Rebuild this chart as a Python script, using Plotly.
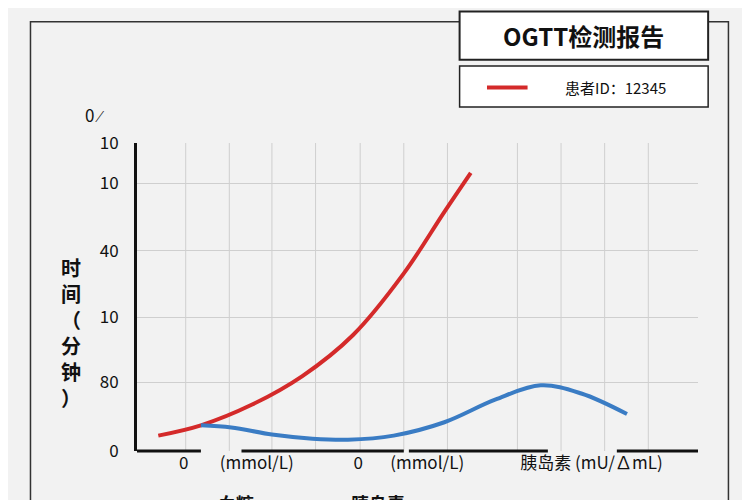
import plotly.graph_objects as go

red_x = [158, 200, 250, 300, 350, 400, 440, 466]
red_y = [15, 25, 45, 73, 113, 173, 233, 271]
blue_x = [200, 230, 270, 310, 345, 390, 440, 490, 535, 575, 620]
blue_y = [25, 23, 16, 12, 11, 15, 28, 50, 64, 56, 36]
ytick_vals = [0, 67, 130, 195, 261, 300]
ytick_text = ["0", "80", "10", "40", "10", "10"]
xtick_vals = [183, 255, 355, 423, 585]
xtick_text = ["0", "(mmol/L)", "0", "(mmol/L)", "胰岛素 (mU/∆mL)"]

F = "Noto Sans CJK SC"
fig = go.Figure()
fig.add_trace(go.Scatter(x=red_x, y=red_y, mode="lines", line=dict(color="#d42a2a", width=4, shape="spline")))
fig.add_trace(go.Scatter(x=blue_x, y=blue_y, mode="lines", line=dict(color="#3a7cc4", width=4, shape="spline")))

def px(x): return (x - 137) / 553
def py(y): return (443 - y) / 300

shapes = [
    dict(type="rect", xref="paper", yref="paper", x0=px(32), x1=px(720), y0=py(510), y1=py(25), line=dict(color="#333", width=1.5)),
    dict(type="rect", xref="paper", yref="paper", x0=px(455), x1=px(700), y0=py(62), y1=py(15), line=dict(color="#222", width=2), fillcolor="white"),
    dict(type="rect", xref="paper", yref="paper", x0=px(455), x1=px(700), y0=py(108), y1=py(68), line=dict(color="#222", width=1.5), fillcolor="white"),
    dict(type="line", xref="paper", yref="paper", x0=px(482), x1=px(522), y0=py(89), y1=py(89), line=dict(color="#d42a2a", width=4)),
]
for a, b in [(137, 200), (240, 400), (405, 542), (610, 690)]:
    shapes.append(dict(type="line", xref="paper", yref="paper", x0=px(a), x1=px(b), y0=0, y1=0, line=dict(color="#111", width=3)))

ann = [
    dict(x=px(577), y=py(38), text="<b>OGTT检测报告</b>", font=dict(size=24, family=F, color="#111")),
    dict(x=px(609), y=py(89), text="患者ID：12345", font=dict(size=15, family=F, color="#111")),
    dict(x=px(95), y=py(115), text="0 ⁄", font=dict(size=17, family=F, color="#111")),
    dict(x=px(72), y=py(328), text="<b>时<br>间<br>（<br>分<br>钟<br>）</b>", font=dict(size=20, family=F, color="#111")),
    dict(x=px(235), y=py(494), text="<b>血糖</b>", font=dict(size=18, family=F, color="#111")),
    dict(x=px(375), y=py(494), text="<b>胰岛素</b>", font=dict(size=18, family=F, color="#111")),
]
for a in ann:
    a.update(xref="paper", yref="paper", showarrow=False, xanchor="center", yanchor="middle")

fig.update_layout(
    width=742, height=492, margin=dict(l=129, r=52, t=135, b=49),
    paper_bgcolor="#f2f2f2", plot_bgcolor="#f2f2f2", showlegend=False,
    shapes=shapes, annotations=ann, font=dict(family=F, color="#111"),
    xaxis=dict(range=[137, 690], tickvals=xtick_vals, ticktext=xtick_text, showgrid=False,
               zeroline=False, tickfont=dict(size=17), ticks=""),
    yaxis=dict(range=[0, 300], tickvals=ytick_vals, ticktext=ytick_text, showgrid=True,
               gridcolor="#cfcfcf", zeroline=False, showline=True, linecolor="#111", linewidth=3,
               tickfont=dict(size=17), ticklabelstandoff=12),
)
for gx in [185, 228, 270, 313, 357, 400, 443, 512, 555, 598, 641]:
    fig.add_vline(x=gx, line=dict(color="#cfcfcf", width=1), layer="below")
fig.write_html("out.html")
